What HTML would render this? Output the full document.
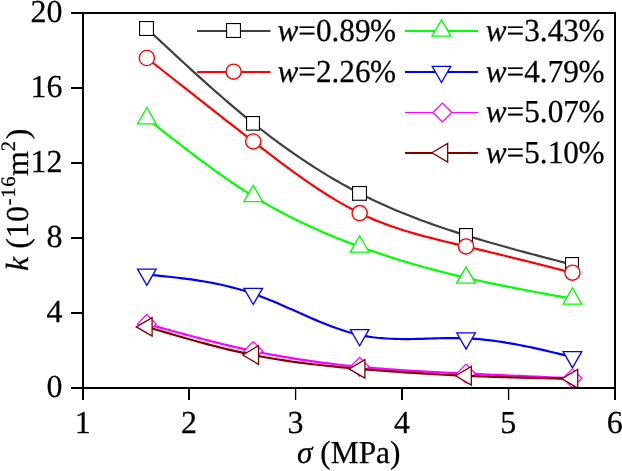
<!DOCTYPE html>
<html><head><meta charset="utf-8"><style>
html,body{margin:0;padding:0;background:#fff;}
svg{display:block;will-change:transform;}
text{font-family:"Liberation Serif",serif;fill:#000;stroke:#000;stroke-width:0.25px;text-rendering:geometricPrecision;}
</style></head><body>
<svg width="622" height="471" viewBox="0 0 622 471">
<path d="M146.84,28.38 L151.27,32.53 L155.71,36.68 L160.14,40.83 L164.57,44.97 L169.01,49.11 L173.44,53.23 L177.87,57.34 L182.31,61.44 L186.74,65.52 L191.17,69.58 L195.61,73.61 L200.04,77.63 L204.47,81.62 L208.91,85.58 L213.34,89.52 L217.77,93.42 L222.21,97.29 L226.64,101.12 L231.07,104.92 L235.51,108.67 L239.94,112.38 L244.37,116.05 L248.81,119.68 L253.24,123.25 L257.67,126.77 L262.11,130.25 L266.54,133.67 L270.97,137.04 L275.41,140.36 L279.84,143.63 L284.27,146.84 L288.71,150.01 L293.14,153.12 L297.57,156.18 L302.01,159.19 L306.44,162.14 L310.87,165.04 L315.31,167.89 L319.74,170.68 L324.17,173.42 L328.61,176.11 L333.04,178.74 L337.47,181.31 L341.91,183.84 L346.34,186.30 L350.77,188.72 L355.21,191.07 L359.64,193.37 L364.07,195.62 L368.51,197.81 L372.94,199.95 L377.37,202.04 L381.81,204.08 L386.24,206.07 L390.67,208.01 L395.11,209.91 L399.54,211.76 L403.97,213.57 L408.41,215.34 L412.84,217.08 L417.27,218.77 L421.71,220.43 L426.14,222.06 L430.57,223.65 L435.01,225.21 L439.44,226.74 L443.87,228.24 L448.31,229.71 L452.74,231.16 L457.17,232.59 L461.61,233.99 L466.04,235.38 L470.47,236.74 L474.91,238.08 L479.34,239.41 L483.77,240.72 L488.21,242.01 L492.64,243.29 L497.07,244.56 L501.51,245.81 L505.94,247.05 L510.37,248.27 L514.81,249.49 L519.24,250.69 L523.67,251.89 L528.11,253.07 L532.54,254.25 L536.97,255.42 L541.41,256.59 L545.84,257.75 L550.27,258.90 L554.71,260.05 L559.14,261.20 L563.57,262.34 L568.01,263.48 L572.44,264.62" fill="none" stroke="#404040" stroke-width="2.2" stroke-linejoin="round"/>
<rect x="139.55" y="21.55" width="13.90" height="13.90" fill="#fff" stroke="#000000" stroke-width="1.1"/>
<rect x="246.55" y="116.55" width="12.90" height="13.60" fill="#fff" stroke="#000000" stroke-width="1.1"/>
<rect x="352.55" y="186.55" width="13.90" height="13.70" fill="#fff" stroke="#000000" stroke-width="1.1"/>
<rect x="459.55" y="228.55" width="12.90" height="13.60" fill="#fff" stroke="#000000" stroke-width="1.1"/>
<rect x="565.55" y="257.55" width="12.90" height="13.60" fill="#fff" stroke="#000000" stroke-width="1.1"/>
<path d="M146.84,58.00 L151.27,61.50 L155.71,65.00 L160.14,68.50 L164.57,72.00 L169.01,75.49 L173.44,78.99 L177.87,82.49 L182.31,85.98 L186.74,89.47 L191.17,92.96 L195.61,96.44 L200.04,99.93 L204.47,103.41 L208.91,106.89 L213.34,110.36 L217.77,113.83 L222.21,117.30 L226.64,120.76 L231.07,124.22 L235.51,127.67 L239.94,131.12 L244.37,134.57 L248.81,138.00 L253.24,141.44 L257.67,144.86 L262.11,148.28 L266.54,151.68 L270.97,155.07 L275.41,158.43 L279.84,161.77 L284.27,165.08 L288.71,168.36 L293.14,171.60 L297.57,174.79 L302.01,177.95 L306.44,181.05 L310.87,184.10 L315.31,187.10 L319.74,190.03 L324.17,192.90 L328.61,195.70 L333.04,198.43 L337.47,201.08 L341.91,203.65 L346.34,206.14 L350.77,208.54 L355.21,210.85 L359.64,213.06 L364.07,215.18 L368.51,217.20 L372.94,219.12 L377.37,220.96 L381.81,222.72 L386.24,224.40 L390.67,226.01 L395.11,227.55 L399.54,229.03 L403.97,230.44 L408.41,231.80 L412.84,233.11 L417.27,234.37 L421.71,235.59 L426.14,236.77 L430.57,237.92 L435.01,239.04 L439.44,240.14 L443.87,241.21 L448.31,242.27 L452.74,243.32 L457.17,244.36 L461.61,245.40 L466.04,246.44 L470.47,247.48 L474.91,248.54 L479.34,249.59 L483.77,250.66 L488.21,251.73 L492.64,252.80 L497.07,253.88 L501.51,254.96 L505.94,256.05 L510.37,257.14 L514.81,258.23 L519.24,259.33 L523.67,260.43 L528.11,261.54 L532.54,262.65 L536.97,263.76 L541.41,264.87 L545.84,265.98 L550.27,267.10 L554.71,268.21 L559.14,269.33 L563.57,270.45 L568.01,271.57 L572.44,272.69" fill="none" stroke="#ff0000" stroke-width="2.2" stroke-linejoin="round"/>
<circle cx="146.84" cy="58.00" r="7.6" fill="#fff" stroke="#ff0000" stroke-width="1.4"/>
<circle cx="253.24" cy="141.44" r="7.6" fill="#fff" stroke="#ff0000" stroke-width="1.4"/>
<circle cx="359.64" cy="213.06" r="7.6" fill="#fff" stroke="#ff0000" stroke-width="1.4"/>
<circle cx="466.04" cy="246.44" r="7.6" fill="#fff" stroke="#ff0000" stroke-width="1.4"/>
<circle cx="572.44" cy="272.69" r="7.6" fill="#fff" stroke="#ff0000" stroke-width="1.4"/>
<path d="M146.84,118.38 L151.27,121.87 L155.71,125.37 L160.14,128.86 L164.57,132.34 L169.01,135.81 L173.44,139.27 L177.87,142.71 L182.31,146.13 L186.74,149.53 L191.17,152.91 L195.61,156.26 L200.04,159.58 L204.47,162.87 L208.91,166.13 L213.34,169.34 L217.77,172.52 L222.21,175.66 L226.64,178.75 L231.07,181.79 L235.51,184.78 L239.94,187.72 L244.37,190.60 L248.81,193.42 L253.24,196.19 L257.67,198.89 L262.11,201.52 L266.54,204.10 L270.97,206.62 L275.41,209.07 L279.84,211.48 L284.27,213.82 L288.71,216.11 L293.14,218.35 L297.57,220.54 L302.01,222.68 L306.44,224.77 L310.87,226.82 L315.31,228.81 L319.74,230.77 L324.17,232.68 L328.61,234.55 L333.04,236.38 L337.47,238.18 L341.91,239.94 L346.34,241.66 L350.77,243.35 L355.21,245.00 L359.64,246.62 L364.07,248.22 L368.51,249.79 L372.94,251.32 L377.37,252.83 L381.81,254.31 L386.24,255.76 L390.67,257.19 L395.11,258.59 L399.54,259.97 L403.97,261.31 L408.41,262.64 L412.84,263.94 L417.27,265.21 L421.71,266.46 L426.14,267.69 L430.57,268.89 L435.01,270.07 L439.44,271.23 L443.87,272.37 L448.31,273.49 L452.74,274.58 L457.17,275.66 L461.61,276.71 L466.04,277.75 L470.47,278.77 L474.91,279.77 L479.34,280.75 L483.77,281.71 L488.21,282.66 L492.64,283.60 L497.07,284.52 L501.51,285.42 L505.94,286.32 L510.37,287.20 L514.81,288.07 L519.24,288.93 L523.67,289.78 L528.11,290.63 L532.54,291.46 L536.97,292.29 L541.41,293.11 L545.84,293.93 L550.27,294.74 L554.71,295.55 L559.14,296.35 L563.57,297.15 L568.01,297.95 L572.44,298.75" fill="none" stroke="#00ff00" stroke-width="2.2" stroke-linejoin="round"/>
<polygon points="146.84,107.51 156.24,123.81 137.44,123.81" fill="#fff" stroke="#00ff00" stroke-width="1.3"/>
<polygon points="253.24,185.32 262.64,201.62 243.84,201.62" fill="#fff" stroke="#00ff00" stroke-width="1.3"/>
<polygon points="359.64,235.76 369.04,252.06 350.24,252.06" fill="#fff" stroke="#00ff00" stroke-width="1.3"/>
<polygon points="466.04,266.88 475.44,283.18 456.64,283.18" fill="#fff" stroke="#00ff00" stroke-width="1.3"/>
<polygon points="572.44,287.88 581.84,304.18 563.04,304.18" fill="#fff" stroke="#00ff00" stroke-width="1.3"/>
<path d="M146.84,274.56 L151.27,274.99 L155.71,275.42 L160.14,275.86 L164.57,276.31 L169.01,276.77 L173.44,277.26 L177.87,277.76 L182.31,278.30 L186.74,278.86 L191.17,279.46 L195.61,280.10 L200.04,280.79 L204.47,281.51 L208.91,282.29 L213.34,283.12 L217.77,284.01 L222.21,284.97 L226.64,285.98 L231.07,287.07 L235.51,288.23 L239.94,289.47 L244.37,290.79 L248.81,292.19 L253.24,293.69 L257.67,295.27 L262.11,296.94 L266.54,298.68 L270.97,300.48 L275.41,302.34 L279.84,304.24 L284.27,306.18 L288.71,308.14 L293.14,310.11 L297.57,312.10 L302.01,314.07 L306.44,316.04 L310.87,317.97 L315.31,319.88 L319.74,321.74 L324.17,323.55 L328.61,325.29 L333.04,326.97 L337.47,328.56 L341.91,330.06 L346.34,331.45 L350.77,332.74 L355.21,333.90 L359.64,334.94 L364.07,335.83 L368.51,336.60 L372.94,337.24 L377.37,337.77 L381.81,338.19 L386.24,338.52 L390.67,338.76 L395.11,338.92 L399.54,339.02 L403.97,339.05 L408.41,339.04 L412.84,338.98 L417.27,338.89 L421.71,338.78 L426.14,338.65 L430.57,338.51 L435.01,338.38 L439.44,338.26 L443.87,338.17 L448.31,338.10 L452.74,338.07 L457.17,338.09 L461.61,338.17 L466.04,338.31 L470.47,338.53 L474.91,338.82 L479.34,339.18 L483.77,339.60 L488.21,340.09 L492.64,340.63 L497.07,341.23 L501.51,341.89 L505.94,342.59 L510.37,343.35 L514.81,344.14 L519.24,344.98 L523.67,345.86 L528.11,346.76 L532.54,347.70 L536.97,348.67 L541.41,349.67 L545.84,350.68 L550.27,351.72 L554.71,352.77 L559.14,353.83 L563.57,354.90 L568.01,355.98 L572.44,357.06" fill="none" stroke="#0000ff" stroke-width="2.2" stroke-linejoin="round"/>
<polygon points="146.84,285.36 156.14,269.16 137.54,269.16" fill="#fff" stroke="#0000ff" stroke-width="1.3"/>
<polygon points="253.24,304.49 262.54,288.29 243.94,288.29" fill="#fff" stroke="#0000ff" stroke-width="1.3"/>
<polygon points="359.64,345.74 368.94,329.54 350.34,329.54" fill="#fff" stroke="#0000ff" stroke-width="1.3"/>
<polygon points="466.04,349.11 475.34,332.91 456.74,332.91" fill="#fff" stroke="#0000ff" stroke-width="1.3"/>
<polygon points="572.44,367.86 581.74,351.66 563.14,351.66" fill="#fff" stroke="#0000ff" stroke-width="1.3"/>
<path d="M146.84,323.88 L151.27,325.11 L155.71,326.34 L160.14,327.58 L164.57,328.80 L169.01,330.03 L173.44,331.25 L177.87,332.46 L182.31,333.67 L186.74,334.86 L191.17,336.05 L195.61,337.23 L200.04,338.39 L204.47,339.54 L208.91,340.68 L213.34,341.80 L217.77,342.91 L222.21,344.00 L226.64,345.07 L231.07,346.12 L235.51,347.16 L239.94,348.17 L244.37,349.16 L248.81,350.12 L253.24,351.06 L257.67,351.98 L262.11,352.87 L266.54,353.73 L270.97,354.57 L275.41,355.39 L279.84,356.18 L284.27,356.95 L288.71,357.70 L293.14,358.42 L297.57,359.12 L302.01,359.80 L306.44,360.46 L310.87,361.10 L315.31,361.71 L319.74,362.31 L324.17,362.89 L328.61,363.44 L333.04,363.98 L337.47,364.50 L341.91,364.99 L346.34,365.48 L350.77,365.94 L355.21,366.38 L359.64,366.81 L364.07,367.22 L368.51,367.62 L372.94,368.00 L377.37,368.37 L381.81,368.72 L386.24,369.05 L390.67,369.38 L395.11,369.69 L399.54,369.99 L403.97,370.28 L408.41,370.56 L412.84,370.83 L417.27,371.09 L421.71,371.35 L426.14,371.59 L430.57,371.83 L435.01,372.06 L439.44,372.29 L443.87,372.51 L448.31,372.73 L452.74,372.94 L457.17,373.15 L461.61,373.36 L466.04,373.56 L470.47,373.77 L474.91,373.97 L479.34,374.17 L483.77,374.37 L488.21,374.57 L492.64,374.77 L497.07,374.97 L501.51,375.17 L505.94,375.36 L510.37,375.56 L514.81,375.75 L519.24,375.95 L523.67,376.14 L528.11,376.34 L532.54,376.53 L536.97,376.72 L541.41,376.91 L545.84,377.10 L550.27,377.30 L554.71,377.49 L559.14,377.68 L563.57,377.87 L568.01,378.06 L572.44,378.25" fill="none" stroke="#ff00ff" stroke-width="2.2" stroke-linejoin="round"/>
<polygon points="146.84,314.48 156.24,323.88 146.84,333.27 137.44,323.88" fill="#fff" stroke="#ff00ff" stroke-width="1.3"/>
<polygon points="253.24,341.66 262.64,351.06 253.24,360.46 243.84,351.06" fill="#fff" stroke="#ff00ff" stroke-width="1.3"/>
<polygon points="359.64,357.41 369.04,366.81 359.64,376.21 350.24,366.81" fill="#fff" stroke="#ff00ff" stroke-width="1.3"/>
<polygon points="466.04,364.16 475.44,373.56 466.04,382.96 456.64,373.56" fill="#fff" stroke="#ff00ff" stroke-width="1.3"/>
<polygon points="572.44,368.85 581.84,378.25 572.44,387.65 563.04,378.25" fill="#fff" stroke="#ff00ff" stroke-width="1.3"/>
<path d="M146.84,326.88 L151.27,328.19 L155.71,329.50 L160.14,330.81 L164.57,332.11 L169.01,333.41 L173.44,334.70 L177.87,335.98 L182.31,337.25 L186.74,338.51 L191.17,339.76 L195.61,340.99 L200.04,342.21 L204.47,343.41 L208.91,344.59 L213.34,345.74 L217.77,346.88 L222.21,347.99 L226.64,349.08 L231.07,350.14 L235.51,351.18 L239.94,352.18 L244.37,353.15 L248.81,354.09 L253.24,355.00 L257.67,355.87 L262.11,356.71 L266.54,357.51 L270.97,358.29 L275.41,359.03 L279.84,359.74 L284.27,360.43 L288.71,361.08 L293.14,361.72 L297.57,362.32 L302.01,362.90 L306.44,363.47 L310.87,364.01 L315.31,364.52 L319.74,365.03 L324.17,365.51 L328.61,365.97 L333.04,366.43 L337.47,366.86 L341.91,367.29 L346.34,367.70 L350.77,368.10 L355.21,368.49 L359.64,368.88 L364.07,369.25 L368.51,369.62 L372.94,369.98 L377.37,370.34 L381.81,370.68 L386.24,371.02 L390.67,371.36 L395.11,371.68 L399.54,372.00 L403.97,372.31 L408.41,372.61 L412.84,372.90 L417.27,373.19 L421.71,373.47 L426.14,373.74 L430.57,374.00 L435.01,374.26 L439.44,374.51 L443.87,374.74 L448.31,374.97 L452.74,375.20 L457.17,375.41 L461.61,375.62 L466.04,375.81 L470.47,376.00 L474.91,376.18 L479.34,376.35 L483.77,376.52 L488.21,376.68 L492.64,376.83 L497.07,376.97 L501.51,377.11 L505.94,377.25 L510.37,377.38 L514.81,377.50 L519.24,377.62 L523.67,377.73 L528.11,377.84 L532.54,377.95 L536.97,378.05 L541.41,378.15 L545.84,378.25 L550.27,378.35 L554.71,378.44 L559.14,378.54 L563.57,378.63 L568.01,378.72 L572.44,378.81" fill="none" stroke="#800000" stroke-width="2.2" stroke-linejoin="round"/>
<polygon points="136.31,326.88 152.11,317.57 152.11,336.18" fill="#fff" stroke="#800000" stroke-width="1.3"/>
<polygon points="242.71,355.00 258.51,345.70 258.51,364.30" fill="#fff" stroke="#800000" stroke-width="1.3"/>
<polygon points="349.11,368.88 364.91,359.57 364.91,378.18" fill="#fff" stroke="#800000" stroke-width="1.3"/>
<polygon points="455.51,375.81 471.31,366.51 471.31,385.11" fill="#fff" stroke="#800000" stroke-width="1.3"/>
<polygon points="561.91,378.81 577.71,369.51 577.71,388.11" fill="#fff" stroke="#800000" stroke-width="1.3"/>
<g fill="#000">
<rect x="71" y="12" width="545" height="2"/>
<rect x="82" y="12" width="2" height="377"/>
<rect x="614" y="12" width="2" height="388"/>
<rect x="71" y="387" width="545" height="2"/>
<rect x="82" y="387" width="2" height="13"/>
<rect x="71" y="87" width="12" height="2"/>
<rect x="71" y="162" width="12" height="2"/>
<rect x="71" y="237" width="12" height="2"/>
<rect x="71" y="312" width="12" height="2"/>
<rect x="188" y="388" width="2" height="12"/>
<rect x="294.95" y="388" width="1.3" height="12"/>
<rect x="401" y="388" width="2" height="12"/>
<rect x="507.95" y="388" width="1.3" height="12"/>
</g>
<text x="62.6" y="396.5" font-size="32" text-anchor="end">0</text>
<text x="62.6" y="321.5" font-size="32" text-anchor="end">4</text>
<text x="62.6" y="246.5" font-size="32" text-anchor="end">8</text>
<text x="62.6" y="171.5" font-size="32" text-anchor="end">12</text>
<text x="62.6" y="96.5" font-size="32" text-anchor="end">16</text>
<text x="62.6" y="21.5" font-size="32" text-anchor="end">20</text>
<text x="82.7" y="432.7" font-size="32" text-anchor="middle">1</text>
<text x="189.1" y="432.7" font-size="32" text-anchor="middle">2</text>
<text x="295.5" y="432.7" font-size="32" text-anchor="middle">3</text>
<text x="401.9" y="432.7" font-size="32" text-anchor="middle">4</text>
<text x="508.3" y="432.7" font-size="32" text-anchor="middle">5</text>
<text x="614.7" y="432.7" font-size="32" text-anchor="middle">6</text>
<text transform="translate(297,463.3) scale(0.98,1)" font-size="32"><tspan font-style="italic">σ</tspan> (MPa)</text>
<text transform="translate(28.3,270.9) rotate(-90)" font-size="32"><tspan font-style="italic">k</tspan> (10<tspan font-size="20.5" dy="-13.1" dx="0.9">-</tspan><tspan font-size="20.5" dx="0.6">1</tspan><tspan font-size="20.5" dx="0.8">6</tspan><tspan dy="13.1" dx="0.5">m</tspan><tspan font-size="20.5" dy="-13.1" dx="-0.3">2</tspan><tspan dy="13.1" dx="1.8">)</tspan></text>
<line x1="197.0" y1="31.0" x2="270.5" y2="31.0" stroke="#404040" stroke-width="2"/>
<rect x="226.55" y="23.55" width="13.90" height="13.90" fill="#fff" stroke="#000000" stroke-width="1.1"/>
<text transform="translate(277.4,40.80) scale(0.977,1)" font-size="32"><tspan font-style="italic">w</tspan>=0.89<tspan dx="-0.5">%</tspan></text>
<line x1="197.0" y1="72.0" x2="270.5" y2="72.0" stroke="#ff0000" stroke-width="2"/>
<circle cx="233.60" cy="71.70" r="7.6" fill="#fff" stroke="#ff0000" stroke-width="1.4"/>
<text transform="translate(277.4,81.80) scale(0.977,1)" font-size="32"><tspan font-style="italic">w</tspan>=2.26<tspan dx="-0.5">%</tspan></text>
<line x1="405.0" y1="31.0" x2="478.0" y2="31.0" stroke="#00ff00" stroke-width="2"/>
<polygon points="441.50,19.83 450.90,36.13 432.10,36.13" fill="#fff" stroke="#00ff00" stroke-width="1.3"/>
<text transform="translate(485.7,40.80) scale(0.977,1)" font-size="32"><tspan font-style="italic">w</tspan>=3.43<tspan dx="-0.5">%</tspan></text>
<line x1="405.0" y1="72.0" x2="478.0" y2="72.0" stroke="#0000ff" stroke-width="2"/>
<polygon points="441.50,82.50 450.80,66.30 432.20,66.30" fill="#fff" stroke="#0000ff" stroke-width="1.3"/>
<text transform="translate(485.7,81.80) scale(0.977,1)" font-size="32"><tspan font-style="italic">w</tspan>=4.79<tspan dx="-0.5">%</tspan></text>
<line x1="405.0" y1="112.5" x2="478.0" y2="112.5" stroke="#ff00ff" stroke-width="1"/>
<polygon points="442.40,103.10 451.80,112.50 442.40,121.90 433.00,112.50" fill="#fff" stroke="#ff00ff" stroke-width="1.3"/>
<text transform="translate(485.7,122.30) scale(0.977,1)" font-size="32"><tspan font-style="italic">w</tspan>=5.07<tspan dx="-0.5">%</tspan></text>
<line x1="405.0" y1="153.0" x2="478.0" y2="153.0" stroke="#800000" stroke-width="2"/>
<polygon points="431.87,152.70 447.67,143.40 447.67,162.00" fill="#fff" stroke="#800000" stroke-width="1.3"/>
<text transform="translate(485.7,162.80) scale(0.977,1)" font-size="32"><tspan font-style="italic">w</tspan>=5.10<tspan dx="-0.5">%</tspan></text>
</svg></body></html>
